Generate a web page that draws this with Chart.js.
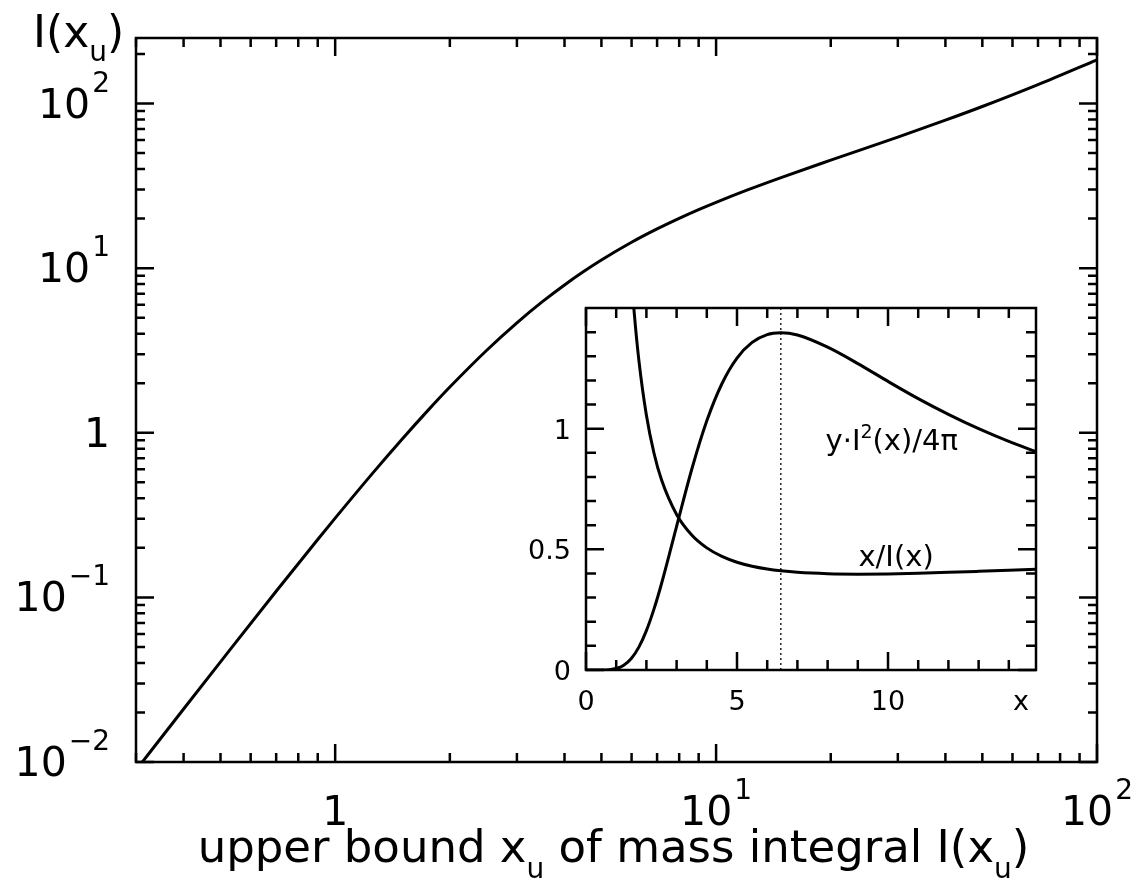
<!DOCTYPE html>
<html>
<head>
<meta charset="utf-8">
<title>mass integral</title>
<script src="https://cdn.jsdelivr.net/npm/chart.js@4.4.1/dist/chart.umd.min.js"></script>
<style>
  body { margin: 0; background: #fff; }
  #wrap { position: relative; width: 1143px; height: 884px; }
  #mainChart { position: absolute; left: 0; top: 0; }
  #insetChart { position: absolute; left: 500px; top: 290px; }
</style>
</head>
<body>
<div id="wrap">
  <canvas id="mainChart" width="1143" height="884"></canvas>
  <canvas id="insetChart" width="560" height="440"></canvas>
</div>
<script>
// mass integral I(x_u) of the isothermal sphere
const massX = [0.3, 0.4, 0.5, 0.7, 0.9, 1, 1.25, 1.5, 1.75, 2, 2.5, 3, 3.5, 4, 4.5, 5, 6, 7, 8, 9, 10, 12, 15, 20, 30, 40, 50, 70, 100];
const massI = [0.00892, 0.0210, 0.0406, 0.1090, 0.2247, 0.3029, 0.5626, 0.9166, 1.363, 1.895, 3.172, 4.654, 6.254, 7.905, 9.563, 11.20, 14.35, 17.30, 20.06, 22.66, 25.10, 29.66, 35.86, 45.25, 62.5, 79.2, 95.9, 130.3, 184.3];

// inset: y*I^2(x)/4pi
const pressX = [0, 0.5, 0.75, 1, 1.25, 1.5, 1.75, 2, 2.25, 2.5, 3, 3.5, 4, 4.5, 5, 5.5, 6, 6.45, 7, 8, 9, 10, 11, 12, 13, 14, 15];
const pressY = [0, 0.0001, 0.0013, 0.0062, 0.0198, 0.0477, 0.0948, 0.1633, 0.2522, 0.3575, 0.5952, 0.8307, 1.0324, 1.1862, 1.2925, 1.3573, 1.3898, 1.397, 1.3879, 1.3376, 1.2696, 1.1958, 1.1245, 1.0592, 0.9997, 0.947, 0.900];

// inset: x/I(x)
const ratioX = [1.25, 1.5, 1.6, 1.75, 2, 2.25, 2.5, 3, 3.5, 4, 4.5, 5, 5.5, 6, 6.45, 7, 8, 9, 10, 11, 12, 13, 14, 15];
const ratioY = [2.222, 1.6365, 1.4756, 1.2841, 1.0554, 0.8993, 0.7881, 0.6446, 0.5596, 0.5060, 0.4706, 0.4465, 0.4298, 0.4182, 0.4108, 0.4046, 0.3988, 0.3972, 0.3983, 0.4010, 0.4046, 0.4089, 0.4135, 0.4183];

// dotted marker at the maximum
const critX = [6.45, 6.45];
const critY = [0, 1.5];

// tick values and labels, main plot
const mainXMajor = [1, 10, 100];
const mainXLabels = ['1', '10^1', '10^2'];
const mainXMinor = [0.3, 0.4, 0.5, 0.6, 0.7, 0.8, 0.9, 2, 3, 4, 5, 6, 7, 8, 9, 20, 30, 40, 50, 60, 70, 80, 90];
const mainYMajor = [0.01, 0.1, 1, 10, 100];
const mainYLabels = ['10^\u22122', '10^\u22121', '1', '10^1', '10^2'];
const mainYMinor = [0.02, 0.03, 0.04, 0.05, 0.06, 0.07, 0.08, 0.09, 0.2, 0.3, 0.4, 0.5, 0.6, 0.7, 0.8, 0.9,
                    2, 3, 4, 5, 6, 7, 8, 9, 20, 30, 40, 50, 60, 70, 80, 90, 200];

// tick values and labels, inset
const insetXMajor = [0, 5, 10];
const insetXLabels = ['0', '5', '10'];
const insetXMinor = [1, 2, 3, 4, 6, 7, 8, 9, 11, 12, 13, 14];
const insetYMajor = [0, 0.5, 1];
const insetYLabels = ['0', '0.5', '1'];
const insetYMinor = [0.1, 0.2, 0.3, 0.4, 0.6, 0.7, 0.8, 0.9, 1.1, 1.2, 1.3, 1.4];

const FONT = '"DejaVu Sans", sans-serif';

const pts = (xs, ys) => xs.map((x, i) => ({ x: x, y: ys[i] }));

// "10^2" -> base plus raised exponent
function powerLabel(ctx, text, x, y, align, size, supSize, rise) {
  const parts = text.split('^');
  ctx.font = size + 'px ' + FONT;
  const wb = ctx.measureText(parts[0]).width;
  let we = 0;
  if (parts[1]) {
    ctx.font = supSize + 'px ' + FONT;
    we = ctx.measureText(parts[1]).width + 2;
  }
  const left = align === 'right' ? x - wb - we : x - (wb + we) / 2;
  ctx.textAlign = 'left';
  ctx.textBaseline = 'alphabetic';
  ctx.font = size + 'px ' + FONT;
  ctx.fillText(parts[0], left, y);
  if (parts[1]) {
    ctx.font = supSize + 'px ' + FONT;
    ctx.fillText(parts[1], left + wb + 2, y - rise);
  }
}

// text made of runs: [string, shift] with shift >0 subscript, <0 superscript
function richText(ctx, runs, x, y, align, size, smallSize) {
  const widths = runs.map(r => {
    ctx.font = (r[1] ? smallSize : size) + 'px ' + FONT;
    return ctx.measureText(r[0]).width;
  });
  const total = widths.reduce((a, b) => a + b, 0);
  let cx = align === 'center' ? x - total / 2 : x;
  ctx.textAlign = 'left';
  ctx.textBaseline = 'alphabetic';
  runs.forEach((r, i) => {
    ctx.font = (r[1] ? smallSize : size) + 'px ' + FONT;
    ctx.fillText(r[0], cx, y + r[1]);
    cx += widths[i];
  });
}

// box with inward ticks on all four sides and tick labels
function frame(opt) {
  return {
    id: 'frame',
    afterDatasetsDraw(chart) {
      const ctx = chart.ctx;
      const a = chart.chartArea;
      const sx = chart.scales.x, sy = chart.scales.y;
      ctx.save();
      ctx.strokeStyle = '#000';
      ctx.fillStyle = '#000';
      ctx.lineWidth = 2.5;
      ctx.strokeRect(a.left, a.top, a.right - a.left, a.bottom - a.top);

      const xTicks = (vals, len) => vals.forEach(v => {
        const px = sx.getPixelForValue(v);
        if (px < a.left - 0.5 || px > a.right + 0.5) return;
        ctx.beginPath();
        ctx.moveTo(px, a.bottom); ctx.lineTo(px, a.bottom - len);
        ctx.moveTo(px, a.top); ctx.lineTo(px, a.top + len);
        ctx.stroke();
      });
      const yTicks = (vals, len) => vals.forEach(v => {
        const py = sy.getPixelForValue(v);
        if (py < a.top - 0.5 || py > a.bottom + 0.5) return;
        ctx.beginPath();
        ctx.moveTo(a.left, py); ctx.lineTo(a.left + len, py);
        ctx.moveTo(a.right, py); ctx.lineTo(a.right - len, py);
        ctx.stroke();
      });
      xTicks(opt.xMajor, opt.major);
      xTicks(opt.xMinor, opt.minor);
      yTicks(opt.yMajor, opt.major);
      yTicks(opt.yMinor, opt.minor);

      opt.xMajor.forEach((v, i) => {
        powerLabel(ctx, opt.xLabels[i], sx.getPixelForValue(v), a.bottom + opt.xLabelDy,
          'center', opt.font, opt.supFont, opt.rise);
      });
      opt.yMajor.forEach((v, i) => {
        powerLabel(ctx, opt.yLabels[i], a.left - opt.yLabelDx, sy.getPixelForValue(v) + opt.yLabelDy,
          'right', opt.font, opt.supFont, opt.rise);
      });
      if (opt.extra) opt.extra(chart, ctx);
      ctx.restore();
    }
  };
}

const lineStyle = { borderColor: '#000', borderWidth: 3, pointRadius: 0, fill: false, cubicInterpolationMode: 'monotone' };

new Chart(document.getElementById('mainChart'), {
  type: 'line',
  data: {
    datasets: [Object.assign({ data: pts(massX, massI) }, lineStyle)]
  },
  options: {
    responsive: false,
    animation: false,
    devicePixelRatio: 1,
    layout: { padding: { left: 136, top: 38, right: 46, bottom: 122 } },
    plugins: { legend: { display: false }, tooltip: { enabled: false } },
    scales: {
      x: { type: 'logarithmic', min: 0.3, max: 100, display: false },
      y: { type: 'logarithmic', min: 0.01, max: 250, display: false }
    }
  },
  plugins: [frame({
    xMajor: mainXMajor, xLabels: mainXLabels, xMinor: mainXMinor,
    yMajor: mainYMajor, yLabels: mainYLabels, yMinor: mainYMinor,
    major: 18, minor: 9, font: 41, supFont: 28, rise: 26,
    xLabelDy: 63, yLabelDx: 26, yLabelDy: 14,
    extra(chart, ctx) {
      const a = chart.chartArea;
      richText(ctx, [['upper bound x', 0], ['u', 16], [' of mass integral I(x', 0], ['u', 16], [')', 0]],
        (a.left + a.right) / 2 - 3, 862, 'center', 45, 28);
      richText(ctx, [['I(x', 0], ['u', 14], [')', 0]], 33, 47, 'left', 44, 28);
    }
  })]
});

new Chart(document.getElementById('insetChart'), {
  type: 'line',
  data: {
    datasets: [
      Object.assign({ data: pts(pressX, pressY) }, lineStyle),
      Object.assign({ data: pts(ratioX, ratioY) }, lineStyle),
      { data: pts(critX, critY), borderColor: '#222', borderWidth: 1.5, borderDash: [2, 3], pointRadius: 0, tension: 0 }
    ]
  },
  options: {
    responsive: false,
    animation: false,
    devicePixelRatio: 1,
    layout: { padding: { left: 86, top: 18, right: 24, bottom: 60 } },
    plugins: { legend: { display: false }, tooltip: { enabled: false } },
    scales: {
      x: { type: 'linear', min: 0, max: 14.9, display: false },
      y: { type: 'linear', min: 0, max: 1.5, display: false }
    }
  },
  plugins: [frame({
    xMajor: insetXMajor, xLabels: insetXLabels, xMinor: insetXMinor,
    yMajor: insetYMajor, yLabels: insetYLabels, yMinor: insetYMinor,
    major: 18, minor: 10, font: 27, supFont: 18, rise: 12,
    xLabelDy: 40, yLabelDx: 15, yLabelDy: 10,
    extra(chart, ctx) {
      const sx = chart.scales.x, sy = chart.scales.y;
      const a = chart.chartArea;
      ctx.font = '27px ' + FONT;
      ctx.textAlign = 'center';
      ctx.fillText('x', sx.getPixelForValue(14.4), a.bottom + 40);
      // curve names
      richText(ctx, [['y\u00b7I', 0], ['2', -12], ['(x)/4\u03c0', 0]],
        sx.getPixelForValue(7.93), sy.getPixelForValue(0.91), 'left', 29, 19);
      richText(ctx, [['x/I(x)', 0]],
        sx.getPixelForValue(9.02), sy.getPixelForValue(0.43), 'left', 29, 19);
    }
  })]
});
</script>
</body>
</html>
